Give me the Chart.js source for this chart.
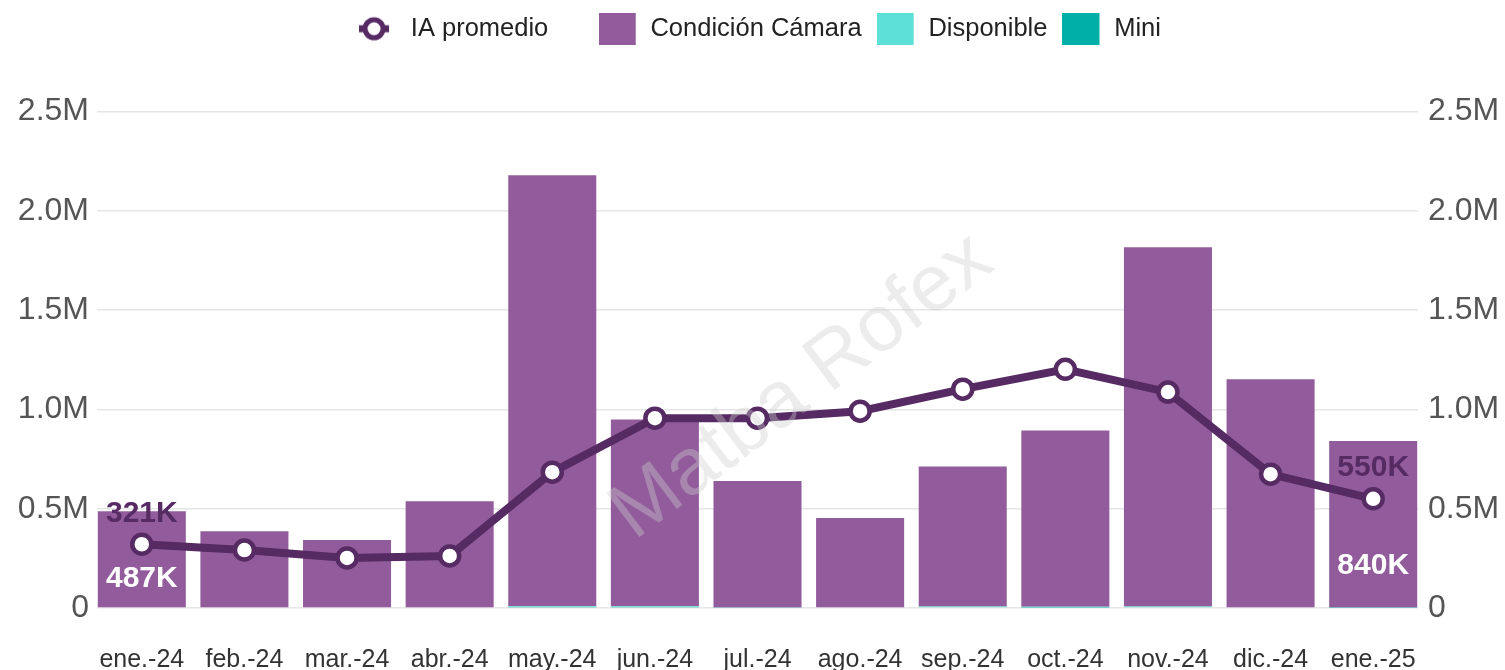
<!DOCTYPE html>
<html>
<head>
<meta charset="utf-8">
<script src="https://cdn.jsdelivr.net/npm/chart.js@4.4.1/dist/chart.umd.min.js"></script>
<style>
  html, body { margin: 0; padding: 0; background: #fff; }
  #wrap { width: 1505px; height: 670px; }
</style>
</head>
<body>
<div id="wrap"><canvas id="myChart"></canvas></div>
<script>
const meses = ["ene.-24", "feb.-24", "mar.-24", "abr.-24", "may.-24", "jun.-24", "jul.-24",
    "ago.-24", "sep.-24", "oct.-24", "nov.-24", "dic.-24", "ene.-25"]
const iaPromedio = [321000, 292000, 252000, 262000, 684000, 956000, 956000, 991000, 1102000, 1202000, 1087000, 674000, 550000]
const condicionCamara = [487000, 387000, 342000, 538000, 2170000, 940000, 637000, 453000, 706000, 888000, 1808000, 1152000, 840000]
const disponible = [0, 0, 0, 0, 4000, 4000, 2000, 0, 3000, 3000, 4000, 0, 1000]
const mini = [0, 0, 0, 0, 5000, 5000, 0, 0, 4000, 3000, 4000, 0, 0]
const ticksY = [0, 500000, 1000000, 1500000, 2000000, 2500000]

const violeta = '#925c9c'
const violetaOscuro = '#562a63'
const fuente = "'Liberation Sans', Arial, sans-serif"

const fmtTick = (v) => v === 0 ? '0' : (v / 1000000).toFixed(1) + 'M'
const fmtK = (v) => Math.round(v / 1000) + 'K'

// iconos de la leyenda
const iconoRect = (color) => {
    const c = document.createElement('canvas')
    c.width = 39
    c.height = 32
    const g = c.getContext('2d')
    g.fillStyle = color
    g.fillRect(0, 0, 37, 32)
    return c
}
const iconoLinea = () => {
    const c = document.createElement('canvas')
    c.width = 39
    c.height = 32
    const g = c.getContext('2d')
    g.strokeStyle = violetaOscuro
    g.lineWidth = 7
    g.beginPath()
    g.moveTo(0, 16)
    g.lineTo(30, 16)
    g.stroke()
    g.beginPath()
    g.arc(15, 16, 9, 0, Math.PI * 2)
    g.fillStyle = '#fff'
    g.fill()
    g.lineWidth = 5
    g.stroke()
    return c
}
const iconos = [iconoLinea(), iconoRect(violeta), iconoRect('#5ce0d8'), iconoRect('#00b0a8')]
// espacio extra tras el primer item, como en el original
const relleno = ['\u00a0\u00a0\u00a0\u00a0\u00a0', '', '', '']

const altoLeyenda = {
    id: 'altoLeyenda',
    beforeInit(chart) {
        const fit = chart.legend.fit
        chart.legend.fit = function () {
            fit.bind(chart.legend)()
            this.height += 60
        }
    }
}

// las barras ocupan casi todo el ancho (primera y ultima casi pegadas al borde)
const anchoCategorias = {
    id: 'anchoCategorias',
    afterLayout(chart) {
        const x = chart.scales.x
        x._startPixel -= 6.5
        x._endPixel += 6.5
        x._length += 13
        chart.legend.left += 6
        chart.legend.right += 6
    }
}

const marcaAgua = {
    id: 'marcaAgua',
    afterDatasetsDraw(chart) {
        const ctx = chart.ctx
        ctx.save()
        ctx.translate(802, 387)
        ctx.rotate(-37 * Math.PI / 180)
        ctx.font = '80px ' + fuente
        ctx.fillStyle = 'rgba(205,205,205,0.38)'
        ctx.textAlign = 'center'
        ctx.textBaseline = 'middle'
        ctx.fillText('Matba Rofex', 0, 0)
        ctx.restore()
    }
}

const etiquetas = {
    id: 'etiquetas',
    afterDatasetsDraw(chart) {
        const ctx = chart.ctx
        const lineMeta = chart.getDatasetMeta(0)
        const barMeta = chart.getDatasetMeta(1)
        const yBase = chart.scales.y.getPixelForValue(0)
        const cfg = [{ i: 0, off: 29 }, { i: meses.length - 1, off: 42 }]
        ctx.save()
        ctx.font = 'bold 30px ' + fuente
        ctx.textAlign = 'center'
        ctx.textBaseline = 'middle'
        cfg.forEach(({ i, off }) => {
            const p = lineMeta.data[i]
            const b = barMeta.data[i]
            ctx.fillStyle = violetaOscuro
            ctx.fillText(fmtK(iaPromedio[i]), p.x, p.y - 31)
            ctx.fillStyle = '#fff'
            ctx.fillText(fmtK(condicionCamara[i]), b.x, yBase - off)
        })
        ctx.restore()
    }
}

const ctx = document.querySelector('#myChart').getContext('2d')
new Chart(ctx, {
    type: 'bar',
    data: {
        labels: meses,
        datasets: [
            {
                type: 'line',
                label: 'IA promedio',
                data: iaPromedio,
                yAxisID: 'y1',
                order: 0,
                borderColor: violetaOscuro,
                borderWidth: 8,
                pointRadius: 9.5,
                pointBorderWidth: 4.5,
                pointBackgroundColor: '#fff',
                pointBorderColor: violetaOscuro,
                tension: 0
            },
            {
                label: 'Condición Cámara',
                data: condicionCamara,
                backgroundColor: violeta,
                order: 3,
                barPercentage: 0.858,
                categoryPercentage: 1
            },
            {
                label: 'Disponible',
                data: disponible,
                backgroundColor: '#5ce0d8',
                order: 2,
                barPercentage: 0.858,
                categoryPercentage: 1
            },
            {
                label: 'Mini',
                data: mini,
                backgroundColor: '#00b0a8',
                order: 1,
                barPercentage: 0.858,
                categoryPercentage: 1
            }
        ]
    },
    options: {
        responsive: true,
        maintainAspectRatio: false,
        animation: false,
        layout: { padding: { left: 9, right: 6, top: 1, bottom: 0 } },
        scales: {
            x: {
                stacked: true,
                grid: { display: false, drawTicks: false },
                border: { display: false },
                afterFit: (axis) => { axis.height = 62 },
                ticks: { color: '#333', font: { family: fuente, size: 25 }, padding: 37, maxRotation: 0, autoSkip: false }
            },
            y: {
                stacked: true,
                position: 'left',
                min: 0,
                max: 2500000,
                afterBuildTicks: (axis) => { axis.ticks = ticksY.map(v => ({ value: v })) },
                afterFit: (axis) => { axis.width = 88 },
                grid: { color: '#e6e6e6', lineWidth: 1.5, drawTicks: false },
                border: { display: false },
                ticks: { color: '#555', font: { family: fuente, size: 32 }, padding: 8, callback: fmtTick }
            },
            y1: {
                position: 'right',
                min: 0,
                max: 2500000,
                afterBuildTicks: (axis) => { axis.ticks = ticksY.map(v => ({ value: v })) },
                afterFit: (axis) => { axis.width = 81 },
                grid: { display: false, drawTicks: false },
                border: { display: false },
                ticks: { color: '#555', font: { family: fuente, size: 32 }, padding: 10, callback: fmtTick }
            }
        },
        plugins: {
            tooltip: { enabled: false },
            legend: {
                position: 'top',
                labels: {
                    usePointStyle: true,
                    pointStyleWidth: 39,
                    color: '#222',
                    font: { family: fuente, size: 25.5 },
                    padding: 15,
                    sort: (a, b) => a.datasetIndex - b.datasetIndex,
                    generateLabels: (chart) => {
                        const items = Chart.defaults.plugins.legend.labels.generateLabels(chart)
                        items.forEach(it => {
                            it.pointStyle = iconos[it.datasetIndex]
                            it.text = it.text + relleno[it.datasetIndex]
                        })
                        return items
                    }
                }
            }
        }
    },
    plugins: [altoLeyenda, anchoCategorias, marcaAgua, etiquetas]
})
</script>
</body>
</html>
